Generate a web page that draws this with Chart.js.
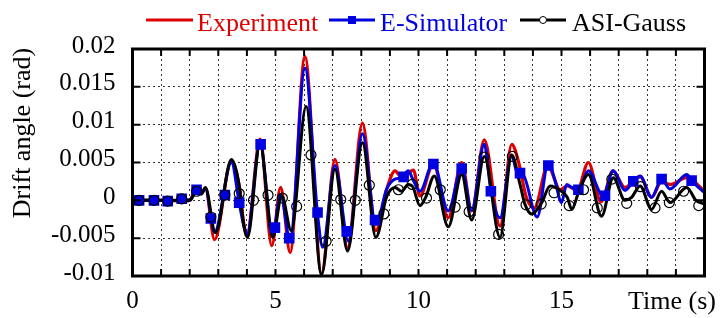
<!DOCTYPE html>
<html>
<head>
<meta charset="utf-8">
<script src="https://cdn.jsdelivr.net/npm/chart.js@4.4.0/dist/chart.umd.min.js"></script>
<style>
  html, body { margin: 0; padding: 0; background: #fff; }
  #wrap { width: 721px; height: 318px; }
</style>
</head>
<body>
<div id="wrap"><canvas id="drift" width="721" height="318"></canvas></div>
<script>
// drift angle time histories (turning points)
const expTime = [0, 1.0, 1.9, 2.0, 2.24, 2.4, 2.55, 2.87, 3.46, 3.75, 3.87, 4.0, 4.46, 4.87, 5.18, 5.51, 6.03, 6.61, 7.08, 7.52,
  8.04, 8.51, 8.89, 9.18, 9.41, 9.64, 9.82, 10.05, 10.52, 11.04, 11.51, 11.86, 12.3, 12.85, 13.26, 13.49, 13.78, 14.05, 14.52, 14.95,
  15.2, 15.55, 15.94, 16.38, 16.8, 17.22, 17.75, 18.15, 18.5, 18.79, 19.38, 20];
const expDrift = [0, 0, -0.0001, 0, 0.0014, 0.0009, 0.0016, -0.0052, 0.0053, 0.0015, -0.0025, -0.0047, 0.0081, -0.006, 0.0017, -0.0069, 0.019, -0.0097, 0.0054, -0.0063,
  0.0102, -0.004, 0.0015, 0.0039, 0.003, 0.0036, 0.004, 0.0006, 0.0048, -0.0023, 0.005, -0.0014, 0.008, -0.0034, 0.0074, 0.0052, 0.0003, -0.001, 0.0046, 0.0014,
  0.0019, 0.0013, 0.005, -0.0002, 0.0039, 0.0017, 0.0031, 0.0004, 0.0025, 0.0021, 0.003, 0.0012];

const esimTime = [0, 1.0, 1.23, 1.9, 2.0, 2.24, 2.4, 2.55, 2.87, 3.46, 3.73, 3.87, 4.0, 4.46, 4.9, 5.18, 5.51, 6.03, 6.47, 6.65,
  7.08, 7.55, 8.04, 8.51, 8.89, 9.18, 9.43, 9.64, 9.8, 10.05, 10.52, 11.04, 11.51, 11.86, 12.3, 12.53, 12.85, 13.26, 13.45, 13.65,
  14.15, 14.54, 14.77, 15.0, 15.18, 15.36, 15.59, 15.94, 16.45, 16.81, 17.22, 17.51, 17.75, 18.15, 18.5, 18.79, 19.38, 19.55, 20];
const esimDrift = [0, 0, -0.0001, 0.0001, 0, 0.0014, 0.0009, 0.0015, -0.0042, 0.005, -0.0003, -0.003, -0.0045, 0.0075, -0.0045, 0.0007, -0.0052, 0.0175, -0.0018, -0.0062,
  0.0046, -0.0054, 0.0088, -0.0032, 0.0015, 0.0028, 0.003, 0.0039, 0.0028, 0.0012, 0.005, -0.0014, 0.0043, -0.0013, 0.0074, 0.0013, -0.0023, 0.006, 0.0036, 0.0034,
  -0.0022, 0.005, 0.0027, -0.0003, 0.0021, 0.0017, 0.0014, 0.0039, 0.0006, 0.0039, 0.0013, 0.0025, 0.0032, 0.0004, 0.0028, 0.0015, 0.0034, 0.0026, 0.001];

const asiTime = [0, 1.0, 2.0, 2.24, 2.4, 2.55, 2.9, 3.46, 3.75, 3.87, 4.02, 4.46, 4.9, 5.22, 5.55, 6.07, 6.61, 7.08, 7.52, 8.04,
  8.51, 8.89, 9.18, 9.41, 9.64, 9.8, 10.05, 10.25, 10.55, 11.04, 11.51, 11.86, 12.3, 12.85, 13.26, 13.55, 13.72, 13.96, 14.31, 14.6,
  15.0, 15.2, 15.36, 15.59, 15.94, 16.4, 16.81, 17.22, 17.45, 17.75, 18.15, 18.5, 18.79, 19.38, 19.7, 20];
const asiDrift = [0, 0, 0, 0.0012, 0.0008, 0.0017, -0.0043, 0.0054, 0.0015, -0.0028, -0.0049, 0.0074, -0.0049, 0.0006, -0.004, 0.0124, -0.0098, 0.0041, -0.0067, 0.0076,
  -0.0049, 0.0005, 0.0017, 0.0012, 0.0021, 0.0018, -0.0007, 0.0004, 0.0032, -0.0035, 0.0034, -0.0026, 0.0058, -0.0049, 0.006, 0.0021, -0.0005, -0.0018, -0.0003, 0.0019,
  0.0012, 0.0004, -0.0012, 0.001, 0.0034, -0.0021, 0.003, 0, 0.0004, 0.0019, -0.0012, 0.0012, -0.0003, 0.0017, 0, -0.0005];

// marker positions
const esimMarkTime = [0.23, 0.75, 1.23, 1.72, 2.24, 2.74, 3.23, 3.73, 4.48, 4.98, 5.48, 6.47, 7.49, 8.48, 9.48, 10.52, 11.51, 12.53, 13.55, 14.54,
  15.59, 16.52, 17.51, 18.5, 19.55];
const esimMarkDrift = [0, 0, -0.0001, 0.0002, 0.0014, -0.0024, 0.0007, -0.0003, 0.0074, -0.0036, -0.005, -0.0016, -0.0041, -0.0026, 0.0031, 0.0048, 0.0042, 0.0012, 0.0036, 0.0046,
  0.0014, 0.0006, 0.0025, 0.0028, 0.0026];
const asiMarkTime = [0.23, 0.75, 1.23, 1.72, 2.24, 2.74, 3.23, 3.73, 4.23, 4.74, 5.24, 5.74, 6.24, 6.77, 7.28, 7.79, 8.28, 8.79, 9.3, 9.78,
  10.28, 10.76, 11.28, 11.77, 12.29, 12.8, 13.28, 13.76, 14.29, 14.74, 15.27, 15.77, 16.25, 16.76, 17.28, 17.76, 18.27, 18.77, 19.27, 19.8];
const asiMarkDrift = [0, 0, -0.0001, 0.0002, 0.0012, -0.0022, 0.0007, 0.0009, 0, 0.0007, 0.0003, -0.0008, 0.006, -0.0054, 0.0001, 0, 0.002, -0.0018, 0.0014, 0.0021,
  0.0003, 0.0014, -0.0009, -0.0015, 0.0057, -0.0045, 0.0058, -0.0006, -0.0005, 0.001, -0.0007, 0.0014, -0.001, 0.0028, -0.0004, 0.0018, -0.001, -0.0003, 0.0012, -0.0007];

const xTickLabels = [0, 5, 10, 15];
const xTitle = 'Time (s)';
const yTitle = 'Drift angle (rad)';
const seriesNames = ['Experiment', 'E-Simulator', 'ASI-Gauss'];

const RED = 'rgb(222,0,0)';
const BLUE = 'rgb(0,0,225)';
const BLACK = '#000';
const SERIF = "'Liberation Serif', 'Times New Roman', serif";

const pts = (ts, vs) => ts.map((t, i) => ({ x: t, y: vs[i] }));

// frame with inward tick marks, like the original plot
const frame = {
  id: 'frame',
  afterDatasetsDraw(chart) {
    const { ctx, chartArea: a, scales } = chart;
    ctx.save();
    ctx.strokeStyle = BLACK;
    ctx.lineWidth = 2;
    ctx.beginPath();
    scales.x.ticks.forEach(t => {
      const px = scales.x.getPixelForValue(t.value);
      ctx.moveTo(px, a.bottom); ctx.lineTo(px, a.bottom - 7);
      ctx.moveTo(px, a.top); ctx.lineTo(px, a.top + 7);
    });
    scales.y.ticks.forEach(t => {
      const py = scales.y.getPixelForValue(t.value);
      ctx.moveTo(a.left, py); ctx.lineTo(a.left + 8, py);
      ctx.moveTo(a.right, py); ctx.lineTo(a.right - 8, py);
    });
    ctx.stroke();
    ctx.lineWidth = 3;
    ctx.strokeRect(a.left, a.top, a.right - a.left, a.bottom - a.top);
    ctx.restore();
  }
};

// legend row + axis titles
const extras = {
  id: 'extras',
  afterDraw(chart) {
    const ctx = chart.ctx;
    ctx.save();
    ctx.font = '26px ' + SERIF;
    ctx.textBaseline = 'alphabetic';
    ctx.textAlign = 'left';
    const y = 20;
    const items = [
      { x0: 146, x1: 193, tx: 197, color: RED, mark: null },
      { x0: 329, x1: 375, tx: 380, color: BLUE, mark: 'rect' },
      { x0: 520, x1: 566, tx: 572, color: BLACK, mark: 'circle' }
    ];
    items.forEach((it, i) => {
      ctx.strokeStyle = it.color;
      ctx.lineWidth = 3;
      ctx.beginPath(); ctx.moveTo(it.x0, y); ctx.lineTo(it.x1, y); ctx.stroke();
      const cx = (it.x0 + it.x1) / 2;
      if (it.mark === 'rect') {
        ctx.fillStyle = it.color;
        ctx.fillRect(cx - 4, y - 4, 8, 8);
      } else if (it.mark === 'circle') {
        ctx.fillStyle = '#fff';
        ctx.lineWidth = 1;
        ctx.beginPath(); ctx.arc(cx, y, 3.5, 0, Math.PI * 2); ctx.fill(); ctx.stroke();
      }
      ctx.fillStyle = it.color;
      ctx.fillText(seriesNames[i], it.tx, 31);
    });
    ctx.fillStyle = BLACK;
    ctx.textAlign = 'right';
    ctx.fillText(xTitle, 716, 309);
    ctx.translate(23, 133);
    ctx.rotate(-Math.PI / 2);
    ctx.textAlign = 'center';
    ctx.textBaseline = 'middle';
    ctx.fillText(yTitle, 0, 0);
    ctx.restore();
  }
};

const ctx = document.getElementById('drift').getContext('2d');
const chart = new Chart(ctx, {
  type: 'line',
  data: {
    datasets: [
      {
        label: 'ASI-Gauss marks', data: pts(asiMarkTime, asiMarkDrift), showLine: false, order: 0,
        pointStyle: 'circle', pointRadius: 5, pointBorderWidth: 1.2,
        pointBorderColor: BLACK, pointBackgroundColor: 'rgba(0,0,0,0)'
      },
      {
        label: 'E-Simulator marks', data: pts(esimMarkTime, esimMarkDrift), showLine: false, order: 1,
        pointStyle: 'rect', pointRadius: 7.5, pointBorderWidth: 0,
        pointBorderColor: BLUE, pointBackgroundColor: BLUE
      },
      {
        label: seriesNames[2], data: pts(asiTime, asiDrift), order: 2,
        borderColor: BLACK, borderWidth: 3, pointRadius: 0, cubicInterpolationMode: 'monotone'
      },
      {
        label: seriesNames[1], data: pts(esimTime, esimDrift), order: 3,
        borderColor: BLUE, borderWidth: 3, pointRadius: 0, cubicInterpolationMode: 'monotone'
      },
      {
        label: seriesNames[0], data: pts(expTime, expDrift), order: 4,
        borderColor: RED, borderWidth: 3.2, pointRadius: 0, cubicInterpolationMode: 'monotone'
      }
    ]
  },
  options: {
    responsive: false,
    animation: false,
    devicePixelRatio: 1,
    events: [],
    layout: { padding: { top: 49, right: 16.5, left: 0, bottom: 0 } },
    plugins: { legend: { display: false }, tooltip: { enabled: false } },
    scales: {
      x: {
        type: 'linear', min: 0, max: 20,
        afterFit: s => { s.height = 42; },
        grid: { color: '#333', lineWidth: 1, drawTicks: false },
        border: { display: false, dash: [2, 3] },
        ticks: {
          stepSize: 1, autoSkip: false, maxRotation: 0, padding: 10, color: BLACK,
          font: { family: SERIF, size: 25 },
          callback: v => (xTickLabels.includes(v) ? String(v) : '')
        }
      },
      y: {
        min: -0.01, max: 0.02,
        afterFit: s => { s.width = 132.5; },
        grid: { color: '#333', lineWidth: 1, drawTicks: false },
        border: { display: false, dash: [2, 3] },
        ticks: {
          stepSize: 0.005, padding: 17, labelOffset: -3, color: BLACK,
          font: { family: SERIF, size: 25 },
          callback: v => String(Number(v.toFixed(3)))
        }
      }
    }
  },
  plugins: [frame, extras]
});
</script>
</body>
</html>
